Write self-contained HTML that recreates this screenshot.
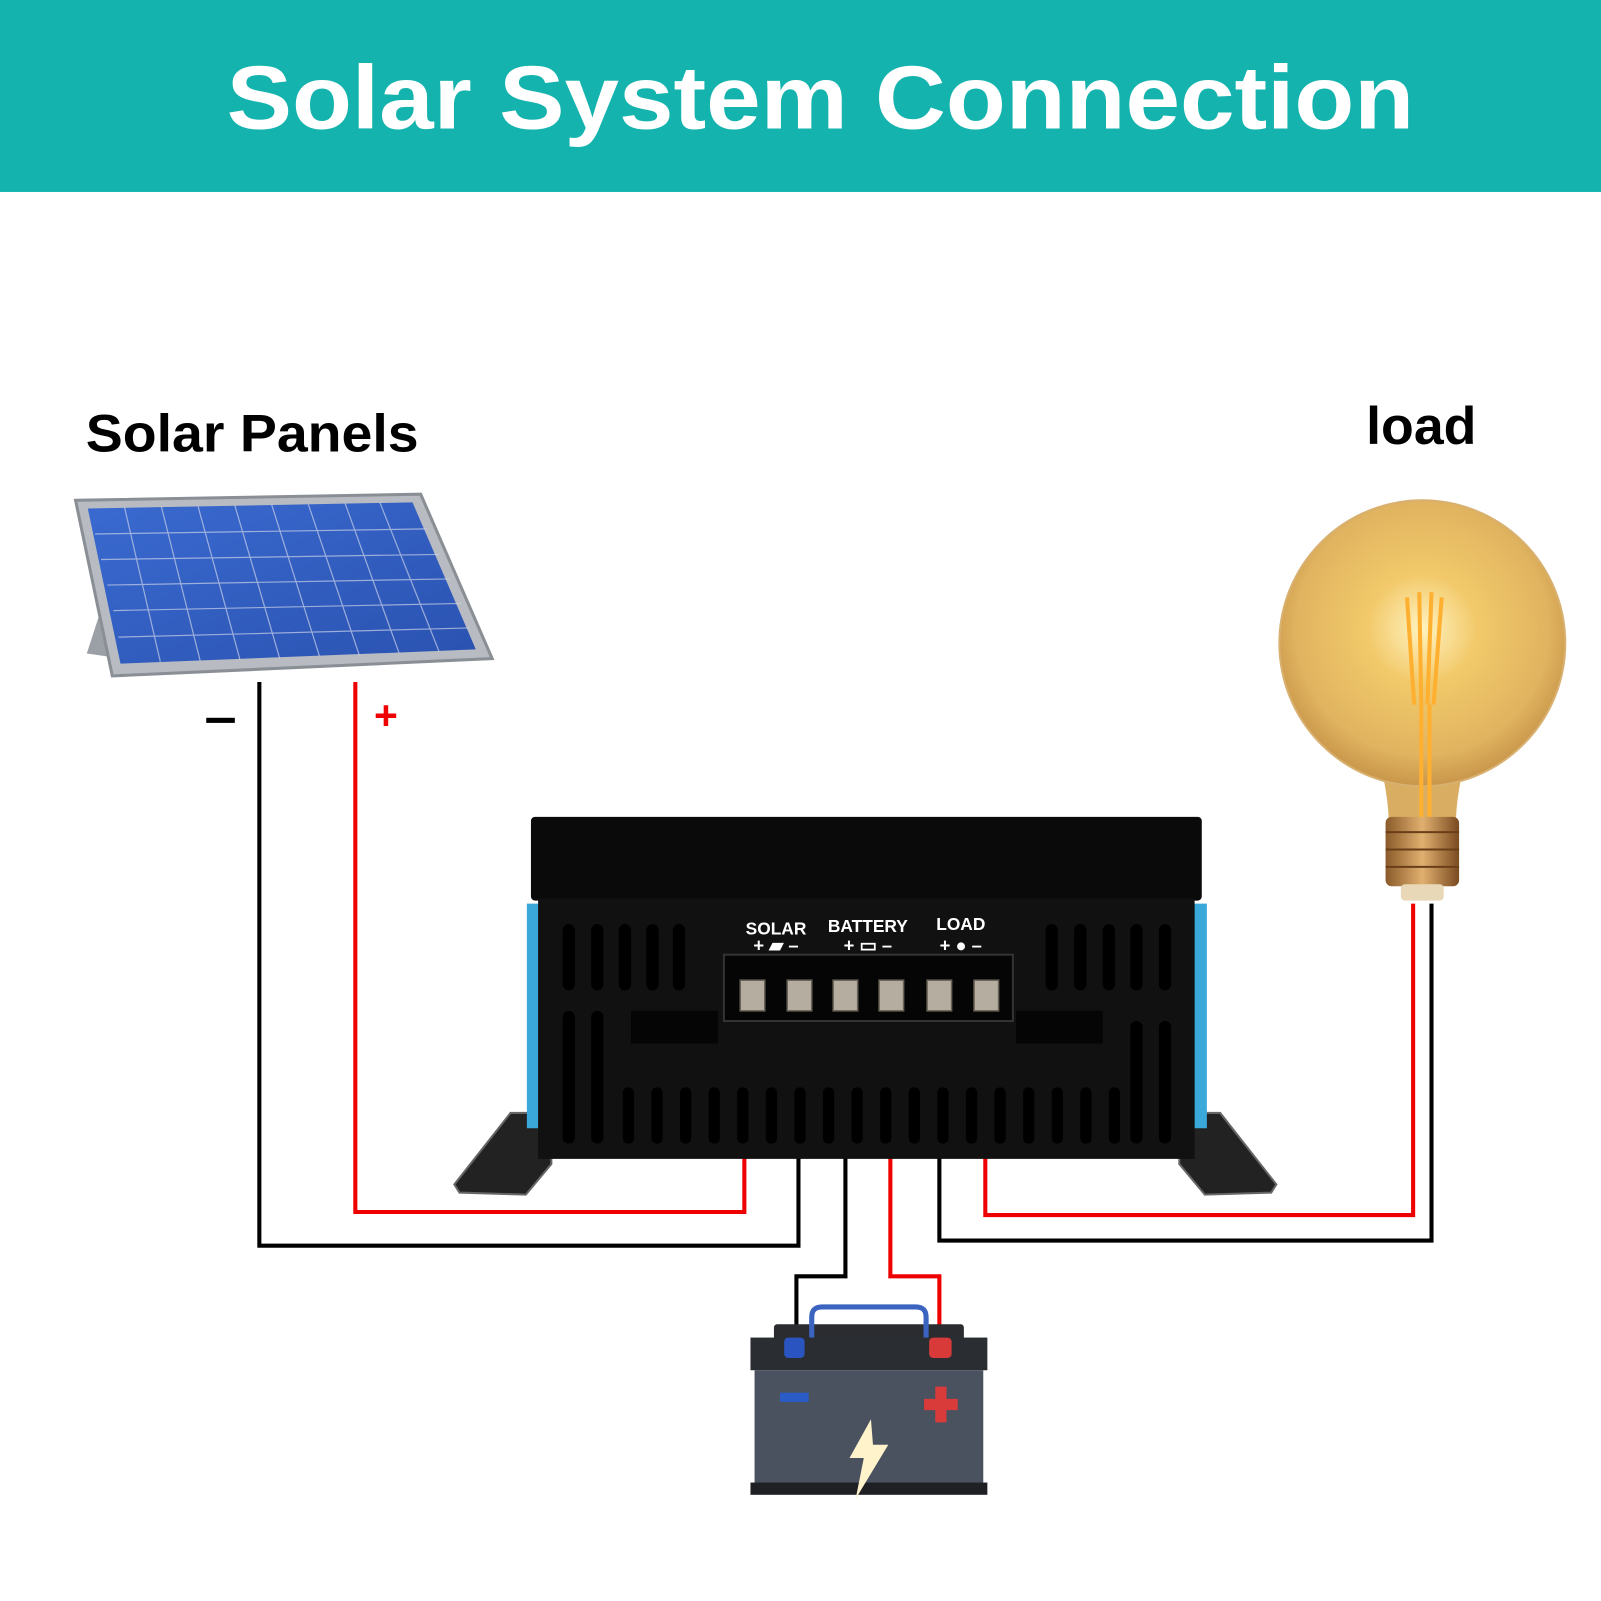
<!DOCTYPE html>
<html><head><meta charset="utf-8"><style>
html,body{margin:0;padding:0;background:#fff}
svg{display:block}
</style></head><body>
<svg width="1601" height="1601" viewBox="0 0 1568 1568" xmlns="http://www.w3.org/2000/svg">
<defs>
<radialGradient id="bulb" cx="0.5" cy="0.45" r="0.55">
<stop offset="0" stop-color="#fff3c0"/><stop offset="0.35" stop-color="#f2c96a"/><stop offset="0.8" stop-color="#e0b460"/><stop offset="1" stop-color="#c9964a"/>
</radialGradient>
<linearGradient id="cell" x1="0" y1="0" x2="1" y2="1"><stop offset="0" stop-color="#3a6ad0"/><stop offset="1" stop-color="#2a52b0"/></linearGradient>
<linearGradient id="base" x1="0" y1="0" x2="1" y2="0"><stop offset="0" stop-color="#8a5a2a"/><stop offset="0.5" stop-color="#e0b070"/><stop offset="1" stop-color="#7a4a20"/></linearGradient>
</defs>
<rect width="1568" height="1568" fill="#fff"/>
<rect x="0" y="0" width="1568" height="188" fill="#14b3ae"/>
<text x="222" y="126" textLength="1163" lengthAdjust="spacingAndGlyphs" font-family="Liberation Sans, sans-serif" font-weight="bold" font-size="88" fill="#fff">Solar System Connection</text>
<text x="84" y="442" textLength="326" lengthAdjust="spacingAndGlyphs" font-family="Liberation Sans, sans-serif" font-weight="bold" font-size="52" fill="#000">Solar Panels</text>
<text x="1338" y="435" textLength="108" lengthAdjust="spacingAndGlyphs" font-family="Liberation Sans, sans-serif" font-weight="bold" font-size="52" fill="#000">load</text>

<!-- solar panel -->
<polygon points="98,600 85,640 120,645" fill="#9aa0a6"/>
<polygon points="74,490 412,484 482,645 110,662" fill="#b8bcc2" stroke="#8a8f96" stroke-width="3"/>
<polygon points="86,498 404,492 466,636 118,650" fill="url(#cell)"/>
<g stroke="#c8d0e8" stroke-width="1.2" opacity="0.7">
<line x1="93" y1="523" x2="418" y2="518"/><line x1="99" y1="548" x2="430" y2="543"/><line x1="105" y1="573" x2="441" y2="567"/><line x1="111" y1="598" x2="452" y2="591"/><line x1="116" y1="624" x2="460" y2="615"/>
<line x1="122" y1="497" x2="157" y2="648"/><line x1="158" y1="496" x2="196" y2="647"/><line x1="194" y1="496" x2="235" y2="646"/><line x1="230" y1="495" x2="274" y2="645"/><line x1="266" y1="494" x2="313" y2="643"/><line x1="302" y1="494" x2="352" y2="642"/><line x1="338" y1="493" x2="391" y2="640"/><line x1="372" y1="492" x2="430" y2="638"/>
</g>

<!-- wires -->
<g fill="none" stroke-width="4">
<polyline points="254,668 254,1220 782,1220 782,1005" stroke="#000"/>
<polyline points="348,668 348,1187 729,1187 729,1000" stroke="#e00"/>
<polyline points="828,1005 828,1250 780,1250 780,1312" stroke="#000"/>
<polyline points="872,1000 872,1250 920,1250 920,1312" stroke="#e00"/>
<polyline points="920,1005 920,1215 1402,1215 1402,885" stroke="#000"/>
<polyline points="965,1000 965,1190 1384,1190 1384,885" stroke="#e00"/>
</g>
<rect x="202" y="703" width="28" height="5" fill="#000"/>
<text x="378" y="714" text-anchor="middle" font-family="Liberation Sans, sans-serif" font-weight="bold" font-size="40" fill="#e00">+</text>

<!-- controller -->
<polygon points="445,1160 500,1090 540,1090 540,1140 515,1170 450,1168" fill="#222" stroke="#666" stroke-width="2"/>
<polygon points="1250,1160 1195,1090 1155,1090 1155,1140 1180,1170 1245,1168" fill="#222" stroke="#666" stroke-width="2"/>
<rect x="520" y="800" width="657" height="82" rx="4" fill="#0a0a0a"/>
<rect x="516" y="885" width="14" height="220" fill="#3aa8d8"/>
<rect x="1168" y="885" width="14" height="220" fill="#3aa8d8"/>
<rect x="527" y="880" width="643" height="255" fill="#111"/>
<g fill="#000">
<rect x="551" y="905" width="12" height="65" rx="6"/><rect x="579" y="905" width="12" height="65" rx="6"/><rect x="606" y="905" width="12" height="65" rx="6"/><rect x="633" y="905" width="12" height="65" rx="6"/><rect x="659" y="905" width="12" height="65" rx="6"/>
<rect x="1024" y="905" width="12" height="65" rx="6"/><rect x="1052" y="905" width="12" height="65" rx="6"/><rect x="1080" y="905" width="12" height="65" rx="6"/><rect x="1107" y="905" width="12" height="65" rx="6"/><rect x="1135" y="905" width="12" height="65" rx="6"/>
<rect x="551" y="990" width="12" height="130" rx="6"/><rect x="579" y="990" width="12" height="130" rx="6"/>
<rect x="1107" y="1000" width="12" height="120" rx="6"/><rect x="1135" y="1000" width="12" height="120" rx="6"/>
</g>
<g fill="#000">
<rect x="610" y="1065" width="11" height="55" rx="5"/><rect x="638" y="1065" width="11" height="55" rx="5"/><rect x="666" y="1065" width="11" height="55" rx="5"/><rect x="694" y="1065" width="11" height="55" rx="5"/><rect x="722" y="1065" width="11" height="55" rx="5"/><rect x="750" y="1065" width="11" height="55" rx="5"/><rect x="778" y="1065" width="11" height="55" rx="5"/><rect x="806" y="1065" width="11" height="55" rx="5"/><rect x="834" y="1065" width="11" height="55" rx="5"/><rect x="862" y="1065" width="11" height="55" rx="5"/><rect x="890" y="1065" width="11" height="55" rx="5"/><rect x="918" y="1065" width="11" height="55" rx="5"/><rect x="946" y="1065" width="11" height="55" rx="5"/><rect x="974" y="1065" width="11" height="55" rx="5"/><rect x="1002" y="1065" width="11" height="55" rx="5"/><rect x="1030" y="1065" width="11" height="55" rx="5"/><rect x="1058" y="1065" width="11" height="55" rx="5"/><rect x="1086" y="1065" width="11" height="55" rx="5"/>
</g>
<rect x="618" y="990" width="85" height="32" fill="#050505"/>
<rect x="995" y="990" width="85" height="32" fill="#050505"/>
<rect x="709" y="935" width="283" height="65" fill="#050505" stroke="#333" stroke-width="2"/>
<g fill="#b5ada0" stroke="#6a6458" stroke-width="1.5">
<rect x="725" y="960" width="24" height="30"/><rect x="771" y="960" width="24" height="30"/><rect x="816" y="960" width="24" height="30"/><rect x="861" y="960" width="24" height="30"/><rect x="908" y="960" width="24" height="30"/><rect x="954" y="960" width="24" height="30"/>
</g>
<g font-family="Liberation Sans, sans-serif" font-weight="bold" fill="#fff" text-anchor="middle">
<text x="760" y="915" font-size="17">SOLAR</text>
<text x="850" y="913" font-size="17">BATTERY</text>
<text x="941" y="911" font-size="17">LOAD</text>
<text x="760" y="932" font-size="18">+ ▰ –</text>
<text x="850" y="932" font-size="18">+ ▭ –</text>
<text x="941" y="932" font-size="18">+ ● –</text>
</g>

<!-- battery -->
<rect x="758" y="1297" width="186" height="16" rx="3" fill="#2a2c30"/>
<path d="M795,1320 V1290 Q795,1280 805,1280 H897 Q907,1280 907,1290 V1320" fill="none" stroke="#3a64c0" stroke-width="5"/>
<rect x="735" y="1310" width="232" height="32" fill="#2a2d32"/>
<rect x="768" y="1310" width="20" height="20" rx="4" fill="#2a55c0"/>
<rect x="910" y="1310" width="22" height="20" rx="4" fill="#d83a3a"/>
<rect x="739" y="1342" width="224" height="112" fill="#4a5260"/>
<rect x="735" y="1452" width="232" height="12" fill="#1e2024"/>
<rect x="764" y="1364" width="28" height="9" fill="#2a5cc8"/>
<path d="M916,1358 h11 v12 h11 v11 h-11 v12 h-11 v-12 h-11 v-11 h11 z" fill="#d93a3a"/>
<polygon points="853,1390 832,1428 846,1428 838,1468 870,1415 855,1415" fill="#fff3cc"/>

<!-- bulb -->
<path d="M1350,740 Q1360,780 1360,805 L1426,805 Q1426,780 1436,740 Z" fill="#d9ae62"/>
<circle cx="1393" cy="630" r="140" fill="url(#bulb)" stroke="#d8b070" stroke-width="2"/>
<g stroke="#ffb030" stroke-width="4" fill="none">
<line x1="1378" y1="585" x2="1385" y2="690"/><line x1="1390" y1="580" x2="1392" y2="690"/><line x1="1402" y1="580" x2="1398" y2="690"/><line x1="1412" y1="585" x2="1404" y2="690"/>
<line x1="1392" y1="690" x2="1392" y2="800"/><line x1="1400" y1="690" x2="1400" y2="800"/>
</g>
<rect x="1357" y="800" width="72" height="68" rx="6" fill="url(#base)"/>
<g stroke="#6a3e18" stroke-width="2"><line x1="1357" y1="815" x2="1429" y2="815"/><line x1="1357" y1="832" x2="1429" y2="832"/><line x1="1357" y1="849" x2="1429" y2="849"/></g>
<rect x="1372" y="866" width="42" height="16" rx="4" fill="#e8d8b8"/>
</svg>
</body></html>
